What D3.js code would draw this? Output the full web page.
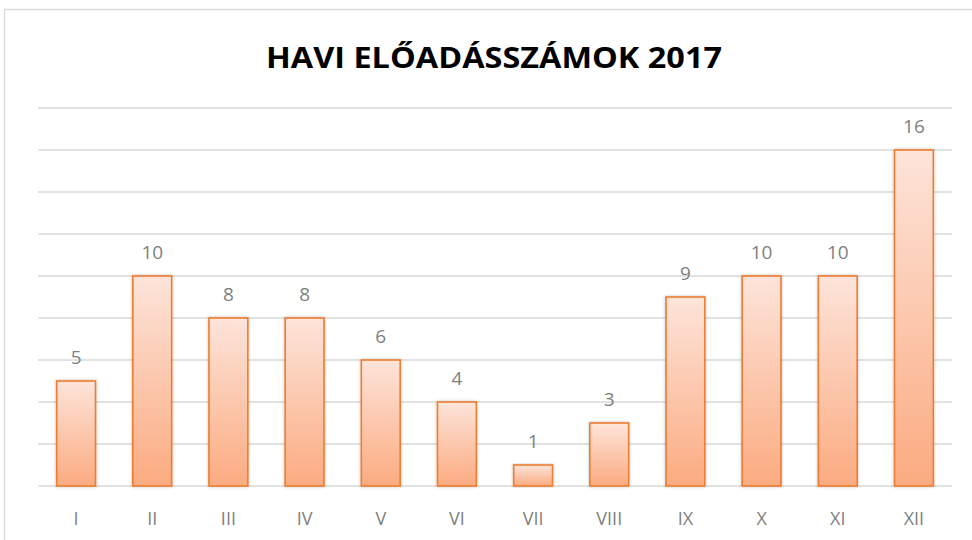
<!DOCTYPE html>
<html lang="hu">
<head>
<meta charset="UTF-8" />
<title>Havi előadásszámok 2017</title>
<script src="https://d3js.org/d3.v7.min.js"></script>
<style>
    body { margin: 0; background: #fff; }
    svg { display: block; font-family: "Open Sans", "Noto Sans", sans-serif; }
    .grid line { stroke: #d9d9d9; stroke-width: 1.3px; }
    .bar { stroke: #ed7d31; stroke-width: 1.6px; }
    .val { fill: #7f7f7f; font-size: 19px; }
    .tick text { fill: #7f7f7f; font-size: 18px; }
</style>
</head>
<body>
<svg width="972" height="540"></svg>
<script>
    const width = 972, height = 540;

    // adatok
    const months = ["I", "II", "III", "IV", "V", "VI", "VII", "VIII", "IX", "X", "XI", "XII"];
    const counts = [5, 10, 8, 8, 6, 4, 1, 3, 9, 10, 10, 16];
    const gridTicks = [0, 2, 4, 6, 8, 10, 12, 14, 16, 18];

    const svg = d3.select("svg");

    // keret
    svg.append("rect")
        .attr("x", 4.5).attr("y", 9.5)
        .attr("width", 980).attr("height", 540)
        .attr("fill", "#fff")
        .attr("stroke", "#d9d9d9")
        .attr("stroke-width", 1.3);

    const defs = svg.append("defs");
    const grad = defs.append("linearGradient")
        .attr("id", "barGrad")
        .attr("x1", 0).attr("y1", 0).attr("x2", 0).attr("y2", 1);
    grad.append("stop").attr("offset", "0%").attr("stop-color", "#fde4da");
    grad.append("stop").attr("offset", "100%").attr("stop-color", "#fbab80");

    const shadow = defs.append("filter").attr("id", "shadow")
        .attr("x", "-20%").attr("y", "-5%").attr("width", "140%").attr("height", "110%");
    shadow.append("feDropShadow")
        .attr("dx", 0).attr("dy", 0).attr("stdDeviation", 1.5)
        .attr("flood-color", "#000").attr("flood-opacity", 0.25);

    const x = d3.scaleBand()
        .domain(months)
        .range([38, 952])
        .paddingInner(0.49)
        .paddingOuter(0.245);

    const y = d3.scaleLinear()
        .domain([0, 18])
        .range([486, 108]);

    // rácsvonalak
    svg.append("g")
        .attr("class", "grid")
        .selectAll("line")
        .data(gridTicks)
        .enter()
        .append("line")
        .attr("x1", 38).attr("x2", 952)
        .attr("y1", d => y(d)).attr("y2", d => y(d));

    // oszlopok
    svg.append("g")
        .selectAll("rect")
        .data(counts)
        .enter()
        .append("rect")
        .attr("class", "bar")
        .attr("fill", "url(#barGrad)")
        .attr("filter", "url(#shadow)")
        .attr("x", (d, i) => x(months[i]))
        .attr("width", x.bandwidth())
        .attr("y", d => y(d))
        .attr("height", d => y(0) - y(d));

    // értékcímkék
    svg.append("g")
        .selectAll("text")
        .data(counts)
        .enter()
        .append("text")
        .attr("class", "val")
        .attr("text-anchor", "middle")
        .attr("x", (d, i) => x(months[i]) + x.bandwidth() / 2)
        .attr("y", d => y(d) - 17)
        .text(d => d);

    // x tengely
    const xAxis = svg.append("g")
        .attr("transform", "translate(0,486)")
        .call(d3.axisBottom(x).tickSize(0).tickPadding(26));
    xAxis.select(".domain").remove();
    xAxis.selectAll("text").attr("font-family", "\"Open Sans\", sans-serif");

    // cím
    svg.append("text")
        .attr("x", 494)
        .attr("y", 68)
        .attr("text-anchor", "middle")
        .attr("font-size", 28)
        .attr("font-weight", "bold")
        .attr("fill", "#000")
        .attr("textLength", 456)
        .attr("lengthAdjust", "spacingAndGlyphs")
        .text("HAVI ELŐADÁSSZÁMOK 2017");
</script>
</body>
</html>
